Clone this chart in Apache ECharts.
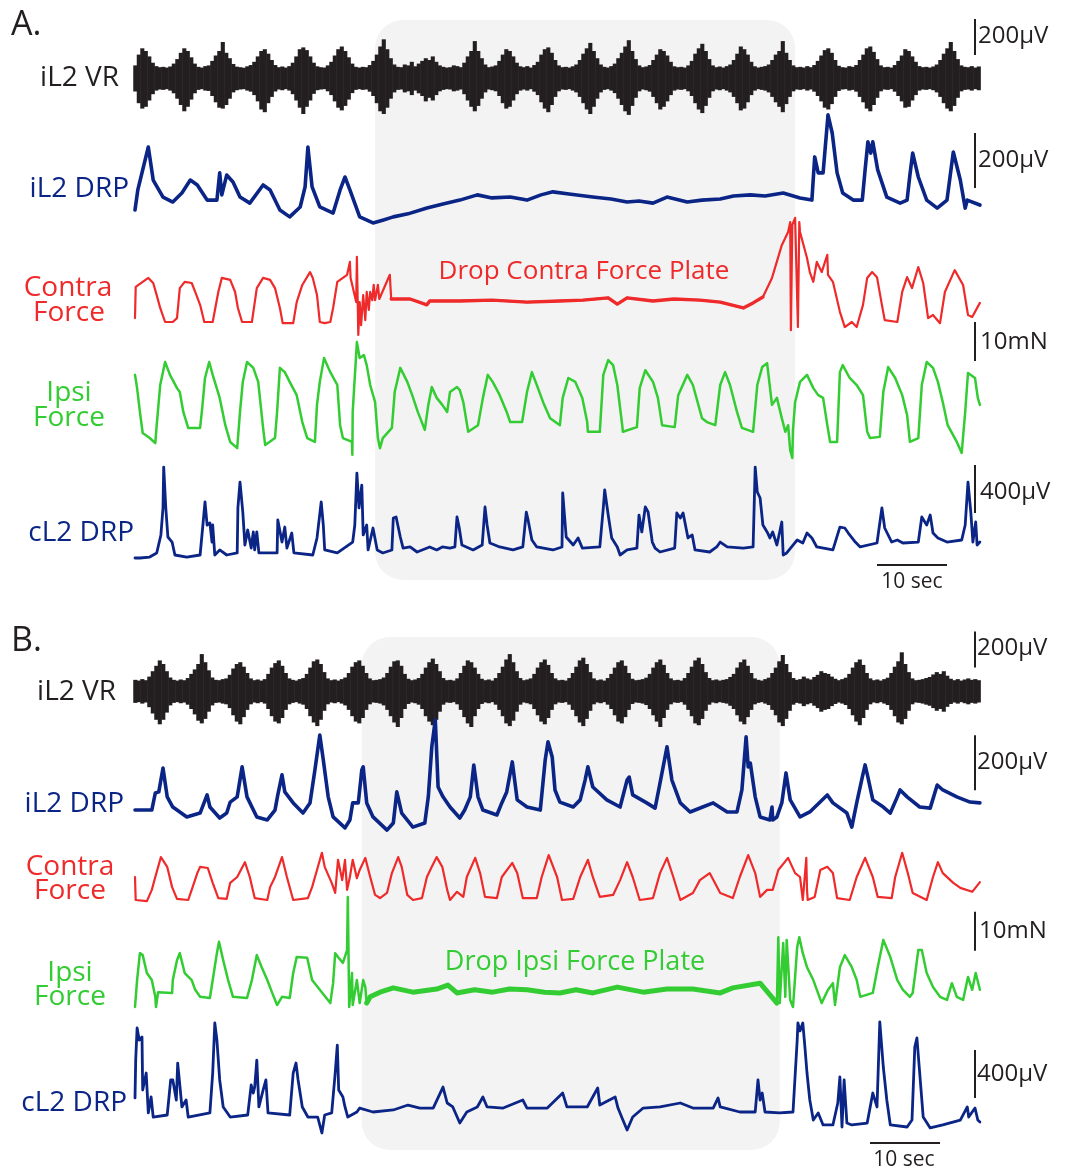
<!DOCTYPE html>
<html>
<head>
<meta charset="utf-8">
<script src="https://cdn.jsdelivr.net/npm/echarts@6/dist/echarts.min.js"></script>
<style>
html,body{margin:0;padding:0;background:#fff;}
#chart{width:1067px;height:1172px;}
</style>
</head>
<body>
<div id="chart"></div>
<script>
// ---------------------------------------------------------------
// Recording data. Time in seconds, potentials in µV, force in mN.
// ---------------------------------------------------------------

// iL2 ventral-root envelope, sampled every VR_STEP seconds (upper / lower edge, µV)
const VR_STEP = 0.5;
const vrA_hi = [70,130,165,150,120,85,66,60, 62,58,64, 80,105,140,165,150,115,80, 62,58,66,70,
  95,125,150,200,140,110,78, 63,60,57,65,72, 90,120,150,160,135,100,72, 60,64,58,66,
  85,120,160,170,155,120,85,65, 60,58,70, 90,125,160,175,150,115,80,62, 58,62,60,72,
  95,130,175,215,160,110,75, 62,60,75,70,90,65, 80,95,110,100,120,90,70, 62,58,60,70,66,60,
  85,120,150,205,150,110,75, 60,64,70, 95,130,160,150,120,85,65, 60,66,58,72,
  90,130,160,170,140,100,70, 60,62,58,65,75, 100,135,165,195,150,110,75, 62,58,66,80,
  110,140,175,210,150,105,70, 60,64,72, 100,130,160,150,125,90,65, 60,62,58,70,
  95,135,165,190,150,105,70, 60,64,58,66,75, 100,135,175,160,130,90,65, 58,62,66,75,
  100,130,150,205,140,100,70, 60,62,58,66,60,72, 95,125,155,165,140,100,68, 60,58,66,62,72,
  100,130,165,175,145,105,70, 60,62,58,72, 95,125,160,150,120,90,66, 60,62,58,64,75,
  100,135,165,200,150,105,70, 62,60,66,58,64];
const vrA_lo = [-75,-140,-170,-160,-125,-90,-70,-64, -66,-62,-70, -85,-115,-150,-185,-160,-120,-85, -66,-62,-70,-72,
  -100,-135,-165,-170,-150,-115,-80, -68,-64,-62,-70,-76, -95,-130,-175,-190,-140,-105,-75, -64,-68,-62,-70,
  -90,-125,-165,-200,-160,-125,-88,-68, -64,-62,-74, -95,-130,-165,-180,-155,-120,-84,-66, -62,-66,-64,-76,
  -100,-140,-185,-200,-165,-115,-80, -66,-64,-80,-74,-95,-70, -85,-100,-130,-110,-125,-95,-74, -66,-62,-64,-74,-70,-64,
  -90,-125,-160,-185,-155,-115,-80, -64,-68,-74, -100,-140,-170,-160,-125,-90,-70, -64,-70,-62,-76,
  -95,-135,-170,-190,-150,-105,-74, -64,-66,-62,-70,-80, -105,-140,-175,-200,-160,-115,-80, -66,-62,-70,-84,
  -115,-150,-185,-205,-155,-110,-74, -64,-68,-76, -105,-140,-175,-160,-130,-95,-70, -64,-66,-62,-74,
  -100,-140,-175,-195,-155,-110,-74, -64,-68,-62,-70,-80, -105,-140,-180,-170,-135,-95,-70, -62,-66,-70,-80,
  -105,-135,-160,-190,-145,-105,-74, -64,-66,-62,-70,-64,-76, -100,-130,-165,-175,-145,-105,-72, -64,-62,-70,-66,-76,
  -105,-135,-170,-185,-150,-110,-74, -64,-66,-62,-76, -100,-130,-165,-160,-125,-95,-70, -64,-66,-62,-68,-80,
  -105,-140,-170,-185,-155,-110,-74, -66,-64,-70,-62,-68];
const vrB_hi = [62,58,66,60, 80,110,140,170,150,110,75, 62,58,64,60,72, 95,120,150,205,160,115,75, 62,60,66,70,
  90,125,150,160,135,100,70, 60,64,58,66, 95,130,155,170,140,100,70, 62,58,66,72,
  95,130,165,175,150,105,70, 60,64,58,66,75, 100,135,160,170,140,100,70, 60,62,66,75,
  100,135,165,170,140,95,68, 60,64,72, 95,130,160,180,150,110,72, 60,62,58,70,
  100,140,170,160,130,95,68, 60,64,58,72, 100,135,175,205,160,110,72, 60,64,70,
  95,130,160,175,145,100,70, 60,62,58,72, 100,135,170,185,150,105,70, 60,64,58,72,
  95,130,160,170,140,100,68, 60,62,66,74, 95,130,160,175,145,100,70, 60,62,58,72,
  100,135,170,185,150,105,72, 60,64,58,62,66,78, 95,130,160,175,140,100,70, 62,58,66,74,
  100,130,165,200,150,105,72, 62,66,80,70,64, 78,90,110,100,95,80,68, 60,66,74,
  95,130,160,175,145,100,70, 60,64,58,66,74, 100,135,165,215,150,105,70, 60,62,66,72,
  78,92,105,95,110,85,68, 60,66,58,64,70,62,66,60];
const vrB_lo = [-66,-62,-70,-64, -90,-125,-160,-185,-160,-120,-80, -66,-62,-68,-64,-76, -100,-130,-165,-180,-155,-115,-80, -66,-64,-70,-74,
  -95,-135,-170,-185,-145,-105,-74, -64,-68,-62,-70, -100,-140,-170,-180,-150,-105,-74, -66,-62,-70,-76,
  -100,-140,-175,-195,-160,-110,-74, -64,-68,-62,-70,-80, -105,-140,-170,-180,-150,-105,-74, -64,-66,-70,-80,
  -105,-140,-175,-200,-150,-100,-72, -64,-68,-76, -100,-140,-170,-190,-160,-115,-76, -64,-66,-62,-74,
  -105,-145,-180,-200,-140,-100,-72, -64,-68,-62,-76, -105,-140,-180,-195,-165,-115,-76, -64,-68,-74,
  -100,-135,-170,-185,-150,-105,-74, -64,-66,-62,-76, -105,-140,-175,-195,-155,-110,-74, -64,-68,-62,-76,
  -100,-135,-170,-180,-145,-105,-72, -64,-66,-70,-78, -100,-135,-170,-200,-150,-105,-74, -64,-66,-62,-76,
  -105,-140,-180,-190,-155,-110,-76, -64,-68,-62,-66,-70,-82, -100,-135,-170,-185,-145,-105,-74, -66,-62,-70,-78,
  -105,-135,-175,-195,-155,-110,-76, -66,-70,-84,-74,-68, -82,-95,-115,-105,-100,-84,-72, -64,-70,-78,
  -100,-135,-170,-190,-150,-105,-74, -64,-68,-62,-70,-78, -105,-140,-175,-185,-155,-110,-74, -64,-66,-70,-76,
  -82,-95,-110,-100,-115,-88,-72, -64,-70,-62,-68,-74,-66,-70,-64];

// iL2 dorsal-root potential [t, µV]
const drpA = [[0,0],[0.4,73],[1.9,229],[2.6,109],[4.0,47],[5.4,29],[6.7,62],[7.9,109],[8.9,91],[10.3,36],[11.7,36],
  [12.1,135],[12.4,55],[13.1,127],[14.0,102],[15.0,47],[16.4,25],[18.3,91],[19.3,73],[20.7,0],[22.1,-25],[23.6,11],
  [24.3,84],[24.7,229],[25.3,84],[26.4,11],[28.3,-11],[29.3,73],[30.0,120],[30.7,73],[32.1,-25],[34.0,-47],[35.5,-36],
  [36.9,-25],[39.0,-14],[41.7,7],[44.0,22],[46.4,36],[48.9,55],[51.0,44],[53.6,47],[56.0,36],[58.0,55],[59.7,66],
  [62.0,58],[65.4,47],[68.0,40],[70.3,29],[72.0,33],[74.0,25],[76.0,47],[78.9,29],[81.0,36],[83.6,40],[85.5,51],
  [87.9,55],[90.0,51],[92.6,62],[95.0,44],[96.7,36],[97.1,193],[97.6,135],[98.3,135],[99.0,346],[99.6,280],[100.3,135],
  [101.1,62],[102.6,36],[103.9,36],[104.3,146],[104.7,248],[105.1,207],[105.4,248],[106.1,146],[107.4,47],[109.3,25],
  [110.3,36],[110.7,127],[111.1,207],[111.9,120],[113.1,36],[114.6,7],[116.0,36],[116.9,211],[117.9,109],[118.6,7],
  [118.9,36],[120.7,18]];
const drpB = [[0,18],[2.4,18],[2.9,80],[3.4,84],[4.0,171],[4.6,66],[5.4,29],[7.4,-7],[9.3,7],[10.3,73],[10.7,29],
  [12.1,-11],[13.1,7],[13.6,47],[14.6,66],[15.3,175],[16.0,66],[17.4,-7],[18.9,-18],[20.0,18],[20.4,73],[21.0,146],
  [21.4,84],[22.6,44],[24.0,7],[25.0,44],[25.7,164],[26.4,291],[26.9,200],[27.6,66],[28.3,-7],[30.0,-47],[30.7,-18],
  [31.1,44],[31.9,44],[32.4,164],[32.6,175],[33.1,44],[34.0,-7],[36.0,-55],[36.9,-29],[37.4,84],[38.1,7],[39.7,-44],
  [41.4,-29],[41.9,66],[42.4,248],[42.9,346],[43.3,102],[44.0,66],[45.0,29],[46.4,-11],[47.1,18],[47.9,66],[48.4,182],
  [49.0,66],[49.7,18],[51.7,0],[52.4,44],[53.1,84],[53.9,193],[54.6,55],[56.0,29],[57.9,18],[58.6,200],[59.0,266],
  [59.6,211],[60.0,91],[60.7,47],[62.6,29],[63.6,55],[64.3,127],[64.7,175],[65.4,102],[67.4,55],[69.3,29],[70.3,127],
  [70.6,138],[71.1,73],[73.1,44],[74.3,25],[75.0,116],[76.0,248],[76.7,127],[77.9,44],[79.3,11],[81.1,29],[82.6,44],
  [84.6,11],[86.0,11],[86.7,91],[87.3,284],[87.6,175],[87.9,189],[88.6,66],[89.3,-7],[90.7,-18],[91.0,29],[91.1,-18],
  [91.7,-7],[92.4,44],[93.0,153],[93.6,55],[95.0,-7],[96.4,11],[98.9,73],[99.7,44],[101.7,7],[102.4,-44],[103.1,44],
  [103.9,138],[104.3,182],[104.7,138],[105.4,55],[106.9,29],[107.9,7],[108.9,66],[109.3,91],[110.3,66],[112.1,29],
  [113.6,25],[114.6,109],[115.4,91],[117.4,66],[119.3,47],[120.7,44]];

// contralateral force plate [t, mN]
const contraA = [[0,1.0],[0.1,9.0],[1.1,10.3],[1.9,11.3],[2.6,10.0],[3.1,6.9],[3.6,3.6],[4.3,0],[5.4,0],[6.0,1.0],
  [6.4,8.7],[7.1,10.3],[8.1,10.0],[8.6,7.7],[9.3,4.4],[9.9,0],[11.1,0],[11.9,7.7],[12.4,11.3],[13.6,10.8],[14.3,7.7],
  [14.7,3.6],[15.3,0],[16.7,0],[17.4,8.7],[18.3,11.3],[19.3,10.8],[20.0,8.7],[20.7,3.6],[21.1,-0.3],[22.6,-0.3],
  [23.1,5.1],[23.9,9.5],[25.0,12.8],[25.4,11.3],[26.0,6.9],[26.4,0],[27.1,-0.3],[27.9,0],[28.3,3.6],[28.9,10.3],
  [30.3,12.1],[30.7,15.4],[30.8,11.3],[31.0,10.8],[31.6,5.1],[31.7,16.7],[31.9,-3.3],[32.1,5.1],[32.3,-0.8],
  [32.6,6.9],[32.9,0.5],[33.1,7.7],[33.4,3.1],[33.6,7.7],[33.9,5.6],[34.1,9.5],[34.3,5.6],[34.7,9.5],[34.9,5.9],
  [36.4,12.1],[36.6,5.9],[39.3,5.9],[41.7,4.4],[42.1,5.4],[46.4,5.4],[51.0,5.6],[56.0,5.1],[60.7,5.4],[64.0,5.6],
  [67.6,6.2],[68.9,4.6],[70.3,6.2],[74.0,5.4],[77.0,5.9],[80.7,5.6],[83.6,5.1],[86.9,3.6],[88.3,4.9],[89.7,6.4],
  [91.0,11.3],[92.4,19.7],[93.3,23.1],[93.6,25.6],[93.7,-2.1],[93.9,24.9],[94.3,26.7],[94.7,-1.3],[94.9,25.6],
  [95.0,23.1],[96.0,16.4],[96.4,12.8],[96.9,10.3],[97.4,15.4],[98.1,12.8],[98.9,17.2],[99.0,12.1],[99.7,10.3],
  [100.7,2.6],[101.4,-1.3],[102.4,0],[103.1,-1.3],[104.0,4.4],[104.6,11.3],[105.3,12.8],[106.0,11.5],[106.7,4.4],
  [107.1,0.5],[108.9,0],[109.6,7.7],[110.3,11.5],[111.0,8.7],[111.9,14.1],[112.6,10.0],[113.3,1.0],[114.0,1.8],
  [115.0,-0.3],[115.7,7.7],[117.1,13.3],[118.3,9.5],[119.0,1.8],[119.6,1.3],[120.7,4.9]];
const contraB = [[0,5.9],[0.1,0],[1.7,-0.3],[2.4,2.6],[2.9,5.9],[3.7,11.0],[4.6,8.5],[5.3,3.3],[6.0,0.3],[7.6,0],
  [8.1,2.6],[8.9,6.9],[9.3,8.5],[10.4,8.2],[11.1,4.4],[11.9,0.5],[13.1,0.3],[13.6,4.4],[14.6,5.9],[15.7,9.7],
  [16.4,5.9],[17.1,0.5],[18.9,0],[19.3,3.3],[20.0,5.9],[21.0,11.0],[21.7,5.9],[22.6,0],[24.7,0.5],[25.3,3.3],
  [26.0,7.7],[26.7,12.1],[27.1,8.5],[28.1,4.4],[28.6,1.8],[29.0,10.3],[29.6,5.1],[30.0,10.3],[30.3,2.6],[30.7,5.9],
  [31.1,10.3],[31.7,5.6],[32.1,7.7],[32.9,10.8],[33.6,5.9],[34.3,1.3],[35.0,0.5],[36.0,1.8],[36.7,6.9],[37.6,11.0],
  [38.1,8.5],[38.9,1.3],[39.7,0],[41.0,0.5],[41.7,5.9],[42.4,8.5],[43.1,11.0],[43.9,8.5],[44.6,2.6],[45.0,0],
  [46.0,2.1],[46.9,0.8],[47.4,5.9],[48.6,10.8],[49.3,6.9],[50.0,0.8],[51.7,0.5],[52.4,5.9],[53.9,9.5],[54.6,6.9],
  [55.4,0.5],[57.4,0.5],[58.1,5.9],[59.1,11.5],[60.3,5.9],[61.0,0],[62.6,0.3],[63.6,5.9],[64.7,10.3],[65.4,5.9],
  [66.4,0.8],[68.3,1.3],[69.3,5.1],[70.3,9.7],[71.1,5.9],[72.1,0],[74.0,0.5],[75.0,6.9],[76.0,10.8],[76.9,5.9],
  [77.9,0],[79.7,1.8],[80.7,5.1],[82.1,6.9],[83.6,1.8],[85.4,0.5],[86.4,5.9],[87.6,11.5],[88.6,6.9],[89.3,0.8],
  [90.3,2.6],[91.1,2.6],[91.9,7.7],[93.3,10.8],[94.3,6.9],[95.0,5.9],[95.4,0],[95.9,10.8],[96.0,2.6],[96.1,0],
  [97.1,0.8],[97.9,7.7],[98.9,8.5],[99.7,6.9],[100.3,0.5],[102.1,0],[103.1,5.9],[104.3,10.8],[105.4,5.9],[106.1,0.8],
  [108.1,0.5],[108.6,5.9],[109.6,12.1],[110.4,6.9],[111.1,1.8],[113.1,0],[114.0,5.9],[114.7,9.7],[115.4,6.9],
  [116.9,4.4],[117.9,3.1],[119.6,2.1],[120.7,4.6]];

// ipsilateral force plate [t, mN]
const ipsiA = [[0,16.7],[0.3,13.3],[0.7,7.2],[1.1,1.8],[2.1,0.5],[2.9,-0.8],[3.1,3.8],[3.6,14.1],[4.3,20.0],[5.0,16.7],
  [6.0,13.3],[6.4,12.3],[6.9,7.2],[7.6,3.1],[9.3,3.1],[9.6,8.2],[10.0,15.9],[10.6,20.0],[11.1,16.7],[12.1,10.8],
  [12.9,3.8],[13.6,-0.5],[14.6,-2.1],[15.0,7.2],[15.4,14.9],[16.0,20.0],[16.9,18.5],[17.6,14.9],[18.3,3.1],[18.6,-1.3],
  [20.0,0.5],[20.3,7.2],[20.7,18.5],[21.4,17.4],[22.1,14.9],[23.1,11.5],[23.9,4.6],[24.6,0.5],[25.7,-0.5],[26.0,9.0],
  [26.4,14.9],[27.0,21.0],[27.9,17.4],[28.9,14.1],[29.3,3.8],[29.7,0.5],[31.0,-0.5],[31.05,-3.8],[31.1,7.2],[31.7,25.1],
  [32.1,21.0],[32.7,21.8],[33.1,19.2],[33.6,14.1],[34.3,9.7],[34.7,0.5],[35.0,-2.1],[35.4,0.5],[36.7,3.1],[37.1,12.3],
  [37.9,18.5],[38.9,14.9],[39.6,11.5],[40.4,7.2],[41.4,2.6],[41.9,9.0],[42.4,13.6],[43.1,10.8],[43.9,9.0],[44.6,7.2],
  [45.0,12.3],[46.0,13.6],[46.4,12.8],[46.9,9.7],[47.6,2.1],[49.0,3.8],[49.7,10.8],[50.4,16.7],[51.1,14.9],[52.1,11.5],
  [53.1,7.2],[53.6,4.6],[55.3,4.6],[56.0,12.3],[56.7,17.4],[57.4,14.1],[58.3,9.7],[59.3,5.6],[60.7,3.8],[61.1,10.8],
  [61.9,15.9],[62.9,14.9],[63.9,10.8],[64.6,4.6],[64.7,2.1],[66.4,2.1],[66.9,16.7],[67.6,20.5],[68.3,19.2],[68.9,14.1],
  [69.6,3.8],[69.7,2.1],[71.7,3.3],[72.1,13.3],[72.9,17.9],[74.0,14.9],[74.7,10.8],[75.3,3.8],[77.1,3.3],[77.6,11.5],
  [78.9,16.7],[79.7,14.1],[81.0,5.6],[81.7,4.6],[82.9,3.8],[83.6,14.1],[84.3,17.4],[85.0,14.1],[86.0,7.2],[86.7,3.1],
  [88.3,2.1],[88.9,14.1],[89.6,18.7],[90.3,19.7],[91.0,9.0],[91.7,10.8],[92.4,5.6],[92.9,2.1],[93.3,3.8],[93.6,-2.6],
  [93.9,-4.6],[94.0,2.6],[94.3,9.7],[95.0,14.9],[96.0,16.7],[96.9,13.3],[97.6,11.5],[98.3,10.8],[98.9,3.8],[99.3,-0.5],
  [100.3,-0.5],[100.7,17.4],[101.1,19.2],[102.1,15.9],[103.1,14.1],[104.0,11.5],[104.6,2.1],[105.0,0.5],[106.4,0.8],
  [106.9,12.3],[107.6,18.7],[108.6,15.9],[109.6,11.5],[110.3,6.4],[110.7,-0.5],[111.9,0.5],[112.4,14.1],[113.1,20.0],
  [114.0,18.5],[114.7,14.9],[115.4,9.7],[116.1,3.8],[117.4,-0.5],[118.1,-3.3],[118.6,7.2],[119.0,17.2],[120.0,15.9],
  [120.4,10.8],[120.7,9.0]];
const ipsiB = [[0,-2.3],[0.3,4.6],[0.7,11.5],[1.1,11.0],[1.7,6.4],[2.4,4.6],[2.9,0.3],[3.0,-2.3],[3.3,1.5],[5.3,1.3],
  [5.4,4.6],[6.0,9.7],[6.4,11.5],[7.1,6.4],[8.1,4.6],[8.6,2.1],[9.3,0.3],[10.7,0],[11.1,4.6],[11.7,11.5],[12.0,14.4],
  [12.6,9.7],[13.3,4.6],[14.0,0.3],[16.0,0],[16.7,4.6],[17.4,11.0],[18.1,7.9],[18.9,4.6],[19.6,1.3],[20.3,-1.8],
  [21.0,0.3],[22.1,0],[22.6,6.4],[23.1,10.5],[24.6,10.3],[25.3,4.6],[26.4,2.1],[27.9,-1.3],[28.3,3.8],[28.6,11.5],
  [29.0,10.5],[29.7,9.0],[30.3,12.3],[30.4,25.9],[30.6,-2.3],[31.0,6.4],[31.1,-1.8],[31.7,4.6],[32.1,-1.3],[32.6,4.6],
  [32.9,2.8],[33.1,-1.3],[33.6,0.3],[35.0,1.5],[36.9,2.6],[39.7,1.5],[43.1,2.3],[44.7,3.3],[46.0,1.3],[48.5,2.1],
  [51.1,1.5],[53.5,2.3],[56.0,2.1],[58.5,1.5],[60.7,1.3],[63.0,2.1],[65.4,1.3],[68.9,2.8],[72.6,1.5],[76.0,2.3],
  [79.7,2.3],[83.6,1.3],[85.4,2.6],[89.3,3.8],[91.7,-1.3],[91.9,15.6],[92.1,-1.3],[92.6,14.1],[92.9,0.3],[93.1,14.9],
  [93.6,-0.5],[94.0,-2.3],[94.6,13.1],[94.9,15.6],[95.4,11.5],[96.0,7.9],[96.9,4.6],[98.1,-1.3],[99.0,2.1],[99.7,3.8],
  [100.0,-1.8],[100.7,7.9],[101.4,11.0],[102.4,7.9],[103.1,4.6],[103.6,0.3],[105.4,1.3],[106.1,7.9],[106.9,14.9],
  [107.9,10.5],[108.9,4.6],[109.7,2.1],[110.7,0.3],[111.1,1.3],[111.9,12.3],[112.4,12.3],[113.1,6.4],[114.0,2.8],
  [115.0,0.3],[116.0,-0.5],[116.7,3.8],[117.4,0.3],[118.3,-0.5],[119.0,5.4],[119.6,2.1],[120.1,6.4],[120.7,2.1]];

// cL2 dorsal-root potential [t, µV]
const cl2A = [[0,-25],[0.7,-25],[2.1,-17],[3.1,17],[3.7,167],[4.0,392],[4.1,733],[4.4,392],[4.7,150],[5.3,108],[5.7,0],
  [7.4,-17],[9.3,0],[9.7,250],[10.0,442],[10.3,250],[10.7,267],[11.0,108],[11.1,250],[11.4,0],[12.1,42],[13.1,0],
  [14.6,17],[14.7,392],[15.0,608],[15.4,358],[15.7,83],[16.1,208],[16.6,58],[16.9,192],[17.1,42],[17.4,192],[17.7,17],
  [20.3,17],[20.4,292],[21.0,108],[21.4,233],[21.7,58],[22.4,183],[22.7,17],[25.4,0],[26.0,142],[26.6,442],[26.9,250],
  [27.1,42],[28.9,17],[31.1,108],[31.4,250],[31.7,683],[32.0,392],[32.4,583],[32.6,167],[33.1,250],[33.3,42],[34.0,225],
  [34.6,42],[35.4,17],[36.7,42],[36.9,308],[37.3,317],[37.9,150],[38.3,58],[39.3,67],[40.3,25],[42.1,67],[43.1,42],
  [43.9,67],[45.0,58],[45.7,67],[46.0,317],[46.3,233],[46.7,83],[48.3,42],[49.6,83],[50.0,400],[50.3,250],[50.7,100],
  [52.1,67],[54.0,42],[55.4,67],[55.9,358],[56.1,308],[56.7,125],[57.4,67],[59.7,42],[61.0,67],[61.1,517],[61.6,150],
  [62.6,83],[63.3,142],[63.9,58],[66.4,67],[66.9,392],[67.1,542],[67.6,333],[68.1,142],[68.9,67],[69.3,0],[70.3,42],
  [71.7,58],[72.0,333],[72.4,192],[72.9,400],[73.3,358],[73.9,108],[74.3,58],[75.0,25],[77.1,58],[77.4,350],[77.9,308],
  [78.3,350],[79.0,142],[79.6,167],[80.0,42],[82.1,25],[83.1,67],[83.6,108],[84.6,67],[86.9,58],[88.3,67],[88.6,733],
  [88.9,525],[89.3,475],[89.7,250],[90.3,192],[90.7,142],[91.1,192],[91.7,83],[92.4,275],[92.6,0],[93.1,17],[94.0,83],
  [94.6,125],[95.4,100],[96.0,183],[96.7,142],[97.4,67],[99.7,42],[100.7,233],[101.4,225],[101.9,183],[102.9,108],
  [103.6,67],[106.0,100],[106.7,392],[107.1,225],[108.1,108],[108.9,125],[109.7,100],[111.9,108],[112.4,317],
  [113.1,250],[113.6,333],[114.0,183],[114.7,142],[116.0,108],[118.1,125],[118.6,250],[119.0,608],[119.4,358],
  [119.7,108],[120.1,275],[120.3,83],[120.7,108]];
const cl2B = [[0,142],[0.1,458],[0.3,725],[0.6,625],[1.0,650],[1.1,208],[1.6,350],[1.9,17],[2.3,150],[2.6,-17],[4.6,0],
  [5.1,292],[5.4,292],[5.9,125],[6.1,433],[6.7,67],[7.3,125],[7.6,-17],[10.7,17],[11.1,350],[11.4,767],[11.7,625],
  [12.1,292],[12.6,67],[13.6,-17],[16.1,0],[16.6,250],[16.9,183],[17.1,233],[17.4,458],[17.7,67],[18.3,208],[18.7,292],
  [19.0,17],[22.1,0],[22.6,350],[23.0,433],[23.3,292],[23.9,67],[24.7,-17],[26.1,-17],[26.7,-150],[27.1,0],[28.1,17],
  [28.6,350],[28.9,583],[29.1,208],[29.7,150],[30.0,67],[30.4,-17],[31.7,25],[32.1,58],[34.0,25],[36.9,42],[39.0,83],
  [40.7,58],[42.6,58],[44.0,233],[44.6,100],[45.4,67],[46.4,-67],[47.4,25],[48.9,67],[49.7,150],[50.3,67],[52.6,58],
  [55.4,125],[56.0,58],[58.9,58],[61.1,183],[61.7,67],[64.6,67],[66.1,225],[66.4,83],[68.6,150],[69.0,58],[69.7,-42],
  [70.3,-125],[71.1,-17],[72.6,58],[75.0,67],[77.9,100],[79.7,58],[82.6,58],[83.3,142],[83.6,67],[84.3,58],[86.4,25],
  [88.6,25],[89.0,292],[89.3,125],[89.6,183],[90.0,25],[92.1,17],[94.0,25],[94.6,625],[94.7,767],[95.0,700],[95.4,767],
  [95.7,567],[96.0,350],[96.4,125],[96.9,-42],[97.6,17],[98.3,-83],[99.7,-83],[100.4,100],[100.7,317],[101.0,-100],
  [101.3,292],[101.7,-67],[102.4,-83],[104.6,-67],[105.4,183],[106.0,67],[106.4,775],[106.9,400],[107.4,125],
  [107.9,-83],[110.3,-100],[111.0,-42],[111.4,567],[111.7,642],[112.1,350],[112.6,-17],[113.6,-108],[115.4,-83],
  [117.9,-42],[118.9,67],[119.1,-17],[120.0,58],[120.4,-42],[120.7,-58]];

// force plate removed (shaded windows) [start s, end s]
const dropWindowA = [34.3, 94.3];
const dropWindowB = [32.4, 92.1];
// settled part of the dropped plate's trace [start s, end s]
const flatContraA = [36.6, 89.7];
const flatIpsiB = [33.1, 91.7];

// calibration bars: [from, to] in the trace's own units, drawn at BAR_T
const BAR_T = 120;
const barVrA = [128, 328], barDrpA = [80, 280], barForceA = [0, -10], barCl2A = [350, 750];
const barVrB = [130, 330], barDrpB = [90, 290], barForceB = [-3, -13], barCl2B = [142, 542];
// 10 s time bars: [start s, end s, level in cL2 µV]
const timeBarA = [106, 116, -83];
const timeBarB = [105, 115, -233];

// ---------------------------------------------------------------
// Layout and drawing
// ---------------------------------------------------------------
const BLACK = '#231f20', NAVY = '#0b2586', RED = '#ef2a2a', GREEN = '#33cc33', SHADE = '#f3f3f3';
const FONT = '"Open Sans", "Noto Sans", sans-serif';
const LEFT = 135, WIDTH = 847, T_MAX = 121;

// each trace strip: pixel row of its zero, pixels per unit, axis extent
const strips = {
  vrA:     {y0: 78,   ppu: 0.18,  min: -260, max: 360},
  drpA:    {y0: 210,  ppu: 0.275, min: -100, max: 380},
  contraA: {y0: 322,  ppu: 3.9,   min: -12,  max: 30},
  ipsiA:   {y0: 440,  ppu: 3.9,   min: -8,   max: 28},
  cl2A:    {y0: 555,  ppu: 0.12,  min: -150, max: 800},
  vrB:     {y0: 691,  ppu: 0.18,  min: -260, max: 360},
  drpB:    {y0: 815,  ppu: 0.275, min: -100, max: 380},
  contraB: {y0: 900,  ppu: 3.9,   min: -14,  max: 16},
  ipsiB:   {y0: 998,  ppu: 3.9,   min: -6,   max: 28},
  cl2B:    {y0: 1115, ppu: 0.12,  min: -260, max: 800}
};

const grid = [], xAxis = [], yAxis = [], series = [];
function addGrid(top, height, min, max) {
  const i = grid.length;
  grid.push({left: LEFT, width: WIDTH, top: top, height: height});
  xAxis.push({type: 'value', gridIndex: i, min: 0, max: T_MAX, show: false});
  yAxis.push({type: 'value', gridIndex: i, min: min, max: max, show: false});
  return i;
}
function stripGrid(s) {
  return addGrid(s.y0 - s.max * s.ppu, (s.max - s.min) * s.ppu, s.min, s.max);
}

// shaded windows
function shade(gi, win) {
  series.push({
    type: 'custom', xAxisIndex: gi, yAxisIndex: gi, silent: true, z: 0,
    data: [[win[0], win[1]]],
    renderItem: function (p, api) {
      const a = api.coord([api.value(0), 1]);
      const b = api.coord([api.value(1), 0]);
      return {type: 'rect', shape: {x: a[0], y: a[1], width: b[0] - a[0], height: b[1] - a[1], r: 28},
              style: {fill: SHADE}};
    }
  });
}
shade(addGrid(20, 560, 0, 1), dropWindowA);
shade(addGrid(637, 513, 0, 1), dropWindowB);

// ventral-root envelope: one filled column per sample, giving a ragged noise band
function vrBand(gi, hi, lo) {
  const items = hi.map(function (h, i) { return [i * VR_STEP, lo[i], h]; });
  series.push({
    type: 'custom', xAxisIndex: gi, yAxisIndex: gi, silent: true, z: 3,
    dimensions: ['t', 'lo', 'hi'],
    encode: {x: 0, y: [1, 2]},
    data: items,
    renderItem: function (p, api) {
      const top = api.coord([api.value(0), api.value(2)]);
      const bot = api.coord([api.value(0), api.value(1)]);
      const w = api.size([VR_STEP, 0])[0];
      return {type: 'rect', shape: {x: top[0] - w / 2, y: top[1], width: w + 0.6, height: bot[1] - top[1]},
              style: {fill: BLACK}};
    }
  });
}

function trace(gi, data, color, width) {
  series.push({
    type: 'line', xAxisIndex: gi, yAxisIndex: gi, data: data, symbol: 'none', silent: true,
    clip: false, z: 4, lineStyle: {color: color, width: width, join: 'round', cap: 'round'}
  });
}
function within(data, win) {
  return data.filter(function (d) { return d[0] >= win[0] && d[0] <= win[1]; });
}
function vBar(gi, range) {
  series.push({
    type: 'line', xAxisIndex: gi, yAxisIndex: gi, data: [[BAR_T, range[0]], [BAR_T, range[1]]],
    symbol: 'none', silent: true, clip: false, z: 5, lineStyle: {color: BLACK, width: 2}
  });
}
function hBar(gi, tb) {
  series.push({
    type: 'line', xAxisIndex: gi, yAxisIndex: gi, data: [[tb[0], tb[2]], [tb[1], tb[2]]],
    symbol: 'none', silent: true, clip: false, z: 5, lineStyle: {color: BLACK, width: 2}
  });
}

// panel A
const gVrA = stripGrid(strips.vrA);
vrBand(gVrA, vrA_hi, vrA_lo); vBar(gVrA, barVrA);
const gDrpA = stripGrid(strips.drpA);
trace(gDrpA, drpA, NAVY, 3.6); vBar(gDrpA, barDrpA);
const gConA = stripGrid(strips.contraA);
trace(gConA, contraA, RED, 2.2); trace(gConA, within(contraA, flatContraA), RED, 3.4); vBar(gConA, barForceA);
const gIpsA = stripGrid(strips.ipsiA);
trace(gIpsA, ipsiA, GREEN, 2.5);
const gCl2A = stripGrid(strips.cl2A);
trace(gCl2A, cl2A, NAVY, 2.8); vBar(gCl2A, barCl2A); hBar(gCl2A, timeBarA);

// panel B
const gVrB = stripGrid(strips.vrB);
vrBand(gVrB, vrB_hi, vrB_lo); vBar(gVrB, barVrB);
const gDrpB = stripGrid(strips.drpB);
trace(gDrpB, drpB, NAVY, 3.6); vBar(gDrpB, barDrpB);
const gConB = stripGrid(strips.contraB);
trace(gConB, contraB, RED, 2.2); vBar(gConB, barForceB);
const gIpsB = stripGrid(strips.ipsiB);
trace(gIpsB, ipsiB, GREEN, 2.5); trace(gIpsB, within(ipsiB, flatIpsiB), GREEN, 5);
const gCl2B = stripGrid(strips.cl2B);
trace(gCl2B, cl2B, NAVY, 2.8); vBar(gCl2B, barCl2B); hBar(gCl2B, timeBarB);

// text
const labels = [
  {text: 'A.', x: 11, y: 25, size: 34, color: BLACK, align: 'left'},
  {text: 'iL2 VR', x: 119, y: 78, size: 28, color: BLACK, align: 'right'},
  {text: 'iL2 DRP', x: 129, y: 189, size: 28, color: NAVY, align: 'right'},
  {text: 'Contra', x: 68, y: 288, size: 28, color: RED, align: 'center'},
  {text: 'Force', x: 69, y: 313, size: 28, color: RED, align: 'center'},
  {text: 'Ipsi', x: 69, y: 393, size: 28, color: GREEN, align: 'center'},
  {text: 'Force', x: 69, y: 418, size: 28, color: GREEN, align: 'center'},
  {text: 'cL2 DRP', x: 134, y: 533, size: 28, color: NAVY, align: 'right'},
  {text: 'Drop Contra Force Plate', x: 584, y: 272, size: 26, color: RED, align: 'center'},
  {text: '200µV', x: 978, y: 36, size: 24, color: BLACK, align: 'left'},
  {text: '200µV', x: 978, y: 160, size: 24, color: BLACK, align: 'left'},
  {text: '10mN', x: 980, y: 342, size: 24, color: BLACK, align: 'left'},
  {text: '400µV', x: 980, y: 492, size: 24, color: BLACK, align: 'left'},
  {text: '10 sec', x: 912, y: 582, size: 21, color: BLACK, align: 'center'},

  {text: 'B.', x: 11, y: 641, size: 34, color: BLACK, align: 'left'},
  {text: 'iL2 VR', x: 116, y: 692, size: 28, color: BLACK, align: 'right'},
  {text: 'iL2 DRP', x: 124, y: 804, size: 28, color: NAVY, align: 'right'},
  {text: 'Contra', x: 70, y: 867, size: 28, color: RED, align: 'center'},
  {text: 'Force', x: 70, y: 891, size: 28, color: RED, align: 'center'},
  {text: 'Ipsi', x: 70, y: 973, size: 28, color: GREEN, align: 'center'},
  {text: 'Force', x: 70, y: 997, size: 28, color: GREEN, align: 'center'},
  {text: 'cL2 DRP', x: 127, y: 1103, size: 28, color: NAVY, align: 'right'},
  {text: 'Drop Ipsi Force Plate', x: 575, y: 962, size: 27, color: GREEN, align: 'center'},
  {text: '200µV', x: 977, y: 648, size: 24, color: BLACK, align: 'left'},
  {text: '200µV', x: 977, y: 762, size: 24, color: BLACK, align: 'left'},
  {text: '10mN', x: 979, y: 931, size: 24, color: BLACK, align: 'left'},
  {text: '400µV', x: 977, y: 1074, size: 24, color: BLACK, align: 'left'},
  {text: '10 sec', x: 904, y: 1160, size: 21, color: BLACK, align: 'center'}
];

const chart = echarts.init(document.getElementById('chart'), null, {renderer: 'canvas', width: 1067, height: 1172});
chart.setOption({
  backgroundColor: '#ffffff',
  animation: false,
  grid: grid,
  xAxis: xAxis,
  yAxis: yAxis,
  series: series,
  graphic: labels.map(function (l) {
    return {
      type: 'text', x: l.x, y: l.y, z: 10, silent: true,
      style: {text: l.text, fill: l.color, font: l.size + 'px ' + FONT,
              textAlign: l.align, textVerticalAlign: 'middle', verticalAlign: 'middle'}
    };
  })
});
</script>
</body>
</html>
